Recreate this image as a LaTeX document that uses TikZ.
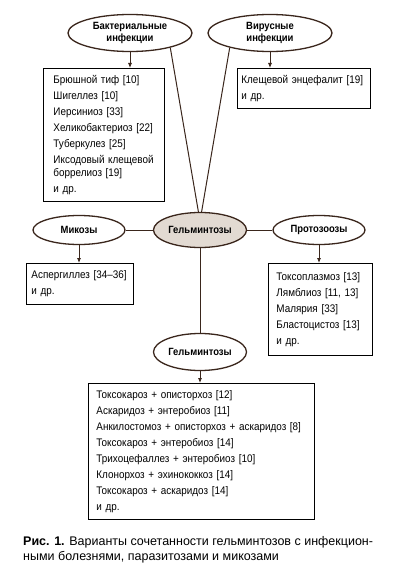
\documentclass[tikz,border=0pt]{standalone}
\usepackage{fontspec}
\setmainfont{Liberation Sans}[FakeStretch=0.9]
\newfontfamily\capfont{Liberation Sans}
\usepackage{xcolor}
\usepackage{tikz}
\usetikzlibrary{
  positioning,
  arrows.meta,
  shapes.geometric
}
\definecolor{linebrown}{RGB}{58,38,28}
\definecolor{helfill}{RGB}{226,218,210}
\tikzset{
  >=Latex,
  flowarrow/.style={-{Latex[length=5pt,width=4pt]},draw=linebrown,line width=0.8pt},
  link/.style={draw=linebrown,line width=1pt},
  disease/.style={ellipse,draw=linebrown,line width=1.3pt,fill=white,align=center,inner sep=0pt,font=\fontsize{10.5}{12}\selectfont\bfseries},
  listbox/.style={rectangle,draw=black,line width=0.9pt,anchor=north west,align=left,inner ysep=0pt,font=\fontsize{11}{12.5}\selectfont}
}

\begin{document}
\begin{tikzpicture}[x=1pt,y=-1pt]
    \useasboundingbox[fill=white] (0,0) rectangle (399,583);
    % ellipses
    \node[disease,minimum width=124pt,minimum height=37pt] (bact) at (130,33) {Бактериальные\\инфекции};
    \node[disease,minimum width=124pt,minimum height=37pt] (virus) at (270,33) {Вирусные\\инфекции};
    \node[disease,fill=helfill,minimum width=93pt,minimum height=35pt] (hel) at (200,230) {Гельминтозы};
    \node[disease,minimum width=92pt,minimum height=29pt] (myc) at (79,230) {Микозы};
    \node[disease,minimum width=92pt,minimum height=29pt] (proto) at (319,230) {Протозоозы};
    \node[disease,minimum width=93pt,minimum height=37pt] (hel2) at (200,352) {Гельминтозы};

    % lists
    \node[listbox,inner xsep=10pt,text width=101pt,minimum height=133pt] (bactbox) at (43,68)
        {Брюшной тиф [10]\\[3.5pt] Шигеллез [10]\\[3.5pt] Иерсиниоз [33]\\[3.5pt] Хеликобактериоз [22]\\[3.5pt] Туберкулез [25]\\[3.5pt] Иксодовый клещевой\\боррелиоз [19]\\[3.5pt] и др.};
    \node[listbox,inner xsep=4pt,text width=125pt,minimum height=40pt] (virusbox) at (237,68)
        {Клещевой энцефалит [19]\\[3.5pt] и др.};
    \node[listbox,inner xsep=5pt,text width=97pt,minimum height=41pt] (mycbox) at (26,263)
        {Аспергиллез [34--36]\\[3.5pt] и др.};
    \node[listbox,inner xsep=8pt,text width=88pt,minimum height=92pt] (protobox) at (268,263)
        {Токсоплазмоз [13]\\[3.5pt] Лямблиоз [11, 13]\\[3.5pt] Малярия [33]\\[3.5pt] Бластоцистоз [13]\\[3.5pt] и др.};
    \node[listbox,inner xsep=8pt,text width=210pt,minimum height=136pt] (helbox) at (88,383)
        {Токсокароз + описторхоз [12]\\[3.5pt] Аскаридоз + энтеробиоз [11]\\[3.5pt] Анкилостомоз + описторхоз + аскаридоз [8]\\[3.5pt] Токсокароз + энтеробиоз [14]\\[3.5pt] Трихоцефаллез + энтеробиоз [10]\\[3.5pt] Клонорхоз + эхинококкоз [14]\\[3.5pt] Токсокароз + аскаридоз [14]\\[3.5pt] и др.};

    % connectors
    \draw[link] (bact.-20) -- (hel.95);
    \draw[link] (virus.200) -- (hel.85);
    \draw[link] (myc.east) -- (hel.west);
    \draw[link] (hel.east) -- (proto.west);
    \draw[link] (hel.south) -- (hel2.north);
    \draw[flowarrow] (bact.south) -- (bact.south |- bactbox.north);
    \draw[flowarrow] (virus.south) -- (virus.south |- virusbox.north);
    \draw[flowarrow] (myc.south) -- (myc.south |- mycbox.north);
    \draw[flowarrow] (proto.south) -- (proto.south |- protobox.north);
    \draw[flowarrow] (hel2.south) -- (hel2.south |- helbox.north);

    % caption
    \node[anchor=north west,align=left,inner sep=0pt,font=\capfont\fontsize{12.5}{15}\selectfont] (caption) at (23,536)
        {\textbf{Рис. 1.} Варианты сочетанности гельминтозов с инфекцион-\\ными болезнями, паразитозами и микозами};
\end{tikzpicture}
\end{document}
